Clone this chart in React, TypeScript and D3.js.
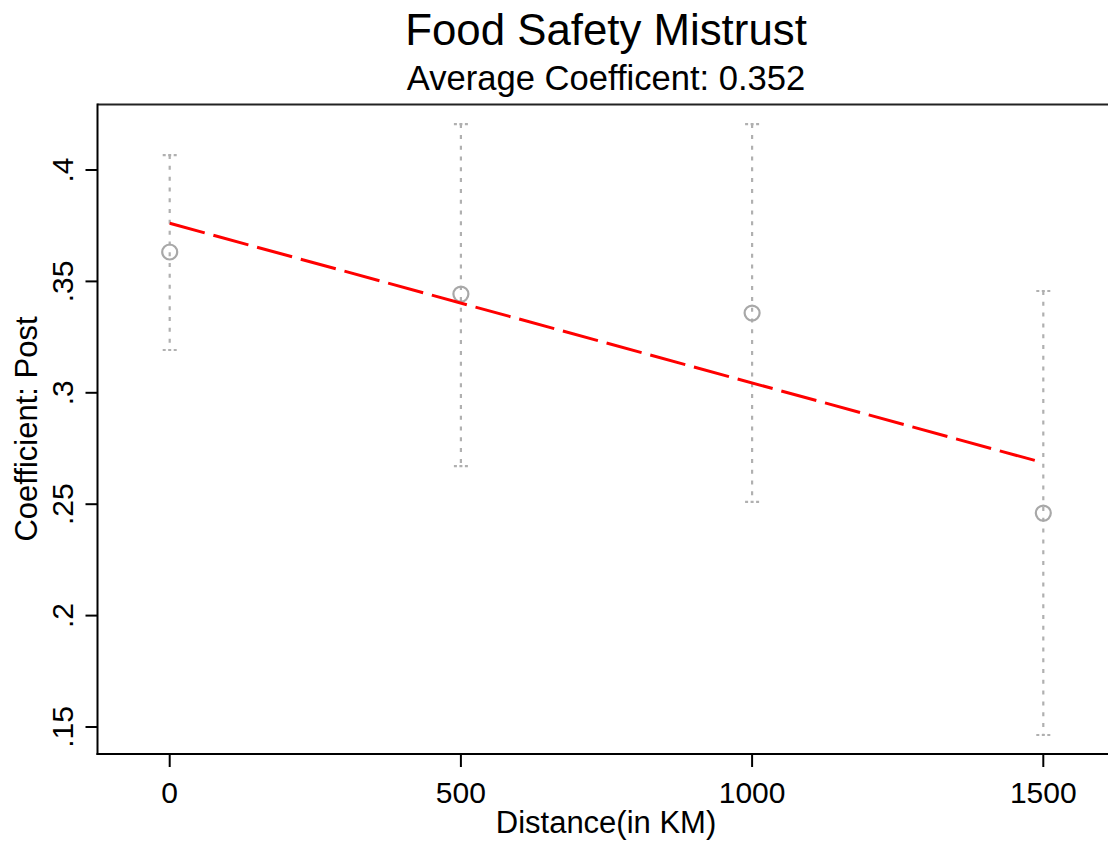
import React from 'react';
import * as d3 from 'd3';

// distance bins (km) and the post coefficient with its CI
const distances = [0, 500, 1000, 1500];
const coefs = [0.3632, 0.3443, 0.3358, 0.246];
const ciLow = [0.3192, 0.2671, 0.251, 0.1464];
const ciHigh = [0.4067, 0.4206, 0.4206, 0.3457];

// fitted line endpoints
const fitX = [0, 1500];
const fitY = [0.3761, 0.2686];

const xTicks = [0, 500, 1000, 1500];
const yTicks = [0.15, 0.2, 0.25, 0.3, 0.35, 0.4];
const yTickLabels = ['.15', '.2', '.25', '.3', '.35', '.4'];

const W = 1108;
const H = 846;
const font = '"Liberation Sans", Arial, sans-serif';

export default function App() {
  const left = 97.5;
  const top = 104.5;
  const bottom = 754;
  const right = 1140;

  const x = d3.scaleLinear().domain([0, 1500]).range([169.7, 1043.3]);
  const y = d3.scaleLinear().domain([0.15, 0.4]).range([727, 170]);

  const fitLine = d3.line<number>()
    .x((_, i) => x(fitX[i]))
    .y((d) => y(d));

  const grey = '#b0b0b0';

  return (
    <svg width={W} height={H} style={{ position: 'absolute', left: 0, top: 0, background: '#fff' }}
      fontFamily={font}>
      <rect width={W} height={H} fill="#fff" />

      <text x={606} y={45} textAnchor="middle" fontSize={43.8} fill="#000">Food Safety Mistrust</text>
      <text x={606} y={90} textAnchor="middle" fontSize={34.6} fill="#000">Average Coefficent: 0.352</text>

      {/* error bars */}
      {distances.map((d, i) => (
        <g key={'ci' + i} stroke={grey} strokeWidth={2.2} fill="none">
          <line x1={x(d)} x2={x(d)} y1={y(ciHigh[i])} y2={y(ciLow[i])} strokeDasharray="4 6.8" />
          <line x1={x(d) - 7} x2={x(d) + 7} y1={y(ciHigh[i])} y2={y(ciHigh[i])} strokeDasharray="3 2.5" />
          <line x1={x(d) - 7} x2={x(d) + 7} y1={y(ciLow[i])} y2={y(ciLow[i])} strokeDasharray="3 2.5" />
        </g>
      ))}

      {/* points */}
      {distances.map((d, i) => (
        <circle key={'pt' + i} cx={x(d)} cy={y(coefs[i])} r={7.5} fill="none" stroke="#a8a8a8" strokeWidth={2.2} />
      ))}

      {/* fitted line */}
      <path d={fitLine(fitY) || ''} fill="none" stroke="#ff0000" strokeWidth={3} strokeDasharray="36.3 9" />

      {/* frame */}
      <line x1={left} x2={right} y1={top} y2={top} stroke="#222" strokeWidth={2} />
      <line x1={left} x2={left} y1={top - 1} y2={bottom + 1} stroke="#000" strokeWidth={2} />
      <line x1={left - 1} x2={right} y1={bottom} y2={bottom} stroke="#000" strokeWidth={2} />

      {/* y ticks */}
      {yTicks.map((t, i) => (
        <g key={'yt' + i}>
          <line x1={left - 12} x2={left} y1={y(t)} y2={y(t)} stroke="#000" strokeWidth={2} />
          <text transform={`translate(72.5,${y(t)}) rotate(-90)`} textAnchor="middle" fontSize={30} fill="#000">
            {yTickLabels[i]}
          </text>
        </g>
      ))}

      {/* x ticks */}
      {xTicks.map((t) => (
        <g key={'xt' + t}>
          <line x1={x(t)} x2={x(t)} y1={bottom} y2={bottom + 13} stroke="#000" strokeWidth={2} />
          <text x={x(t)} y={803} textAnchor="middle" fontSize={30} fill="#000">{t}</text>
        </g>
      ))}

      <text x={606} y={833} textAnchor="middle" fontSize={31} fill="#000">Distance(in KM)</text>
      <text transform={`translate(37,429) rotate(-90)`} textAnchor="middle" fontSize={31} fill="#000">
        Coefficient: Post
      </text>
    </svg>
  );
}
